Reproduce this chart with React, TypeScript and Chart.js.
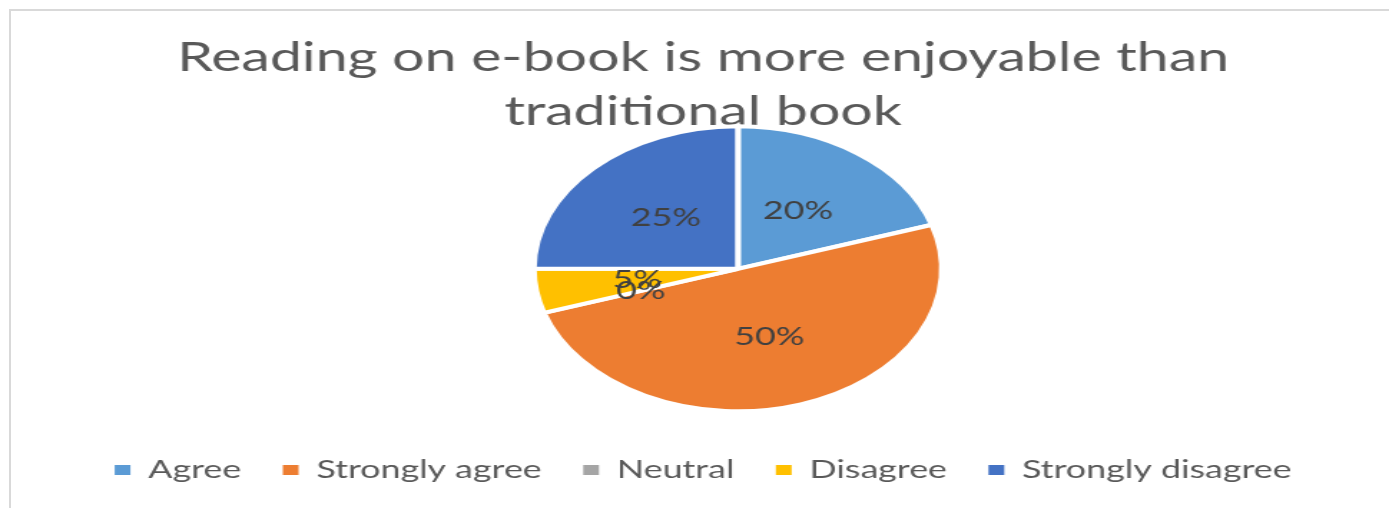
import React, { useEffect, useRef } from "react";
import { Chart, registerables } from "chart.js";

Chart.register(...registerables);

// ---- data ----
const categories = ["Agree", "Strongly agree", "Neutral", "Disagree", "Strongly disagree"];
const percentages = [20, 50, 0, 5, 25];
const sliceColors = ["#5B9BD5", "#ED7D31", "#A5A5A5", "#FFC000", "#4472C4"];
const titleLines = ["Reading on e-book is more enjoyable than", "traditional book"];

// ---- geometry of the (horizontally stretched) picture ----
const CANVAS_W = 970;
const CANVAS_H = 508;
const DISPLAY_W = 1389;
const DISPLAY_H = 508;

const areaShift = {
  id: "areaShift",
  afterLayout(chart: any, _args: any, opts: any) {
    const a = chart.chartArea;
    a.left += opts.dx;
    a.right += opts.dx;
    a.top += opts.dy;
    a.bottom += opts.dy;
  },
};

const sliceLabels = {
  id: "sliceLabels",
  afterDatasetsDraw(chart: any, _args: any, opts: any) {
    const ctx = chart.ctx;
    const meta = chart.getDatasetMeta(0);
    const values = chart.data.datasets[0].data as number[];
    ctx.save();
    ctx.font = opts.font;
    ctx.fillStyle = opts.color;
    ctx.textAlign = "center";
    ctx.textBaseline = "middle";
    meta.data.forEach((el: any, i: number) => {
      const p = el.tooltipPosition(false);
      ctx.fillText(`${values[i]}%`, p.x, p.y);
    });
    ctx.restore();
  },
};

export default function App() {
  const ref = useRef<HTMLCanvasElement | null>(null);

  useEffect(() => {
    if (!ref.current) return;
    const ov: any = (Chart as any).overrides;
    const baseGen =
      (ov.pie && ov.pie.plugins && ov.pie.plugins.legend && ov.pie.plugins.legend.labels.generateLabels) ||
      ov.doughnut.plugins.legend.labels.generateLabels;

    const chart = new Chart(ref.current, {
      type: "pie",
      data: {
        labels: categories,
        datasets: [
          {
            data: percentages,
            backgroundColor: sliceColors,
            borderColor: "#ffffff",
            borderWidth: 4,
            radius: 142.5,
          } as any,
        ],
      },
      options: {
        responsive: false,
        animation: false,
        layout: { padding: { left: 12, right: 0, top: 0, bottom: 15.5 } },
        plugins: {
          title: {
            display: true,
            text: titleLines,
            color: "#595959",
            font: { family: "Lato", size: 40, weight: "normal", lineHeight: 54 / 40 },
            padding: { top: 31, bottom: 0 },
          },
          legend: {
            position: "bottom",
            labels: {
              font: { family: "Lato", size: 25 },
              color: "#595959",
              boxWidth: 11,
              boxHeight: 10,
              padding: 29,
              generateLabels: (c: any) =>
                baseGen(c).map((l: any) => ({ ...l, lineWidth: 0 })),
            },
          },
          tooltip: { enabled: false },
          areaShift: { dx: 24.3, dy: -14.95 },
          sliceLabels: { font: "25px Lato", color: "#404040" },
        } as any,
      },
      plugins: [areaShift, sliceLabels],
    });
    return () => chart.destroy();
  }, []);

  return (
    <div
      style={{
        position: "fixed",
        left: 0,
        top: 0,
        width: DISPLAY_W,
        height: DISPLAY_H,
        overflow: "hidden",
        background: "#ffffff",
      }}
    >
      <div
        style={{
          position: "absolute",
          left: 9,
          top: 9,
          width: 1420,
          height: 540,
          border: "2px solid #D9D9D9",
        }}
      />
      <canvas
        ref={ref}
        width={CANVAS_W}
        height={CANVAS_H}
        style={{
          position: "absolute",
          left: 0,
          top: 0,
          width: `${DISPLAY_W}px`,
          height: `${DISPLAY_H}px`,
          display: "block",
        }}
      />
    </div>
  );
}
